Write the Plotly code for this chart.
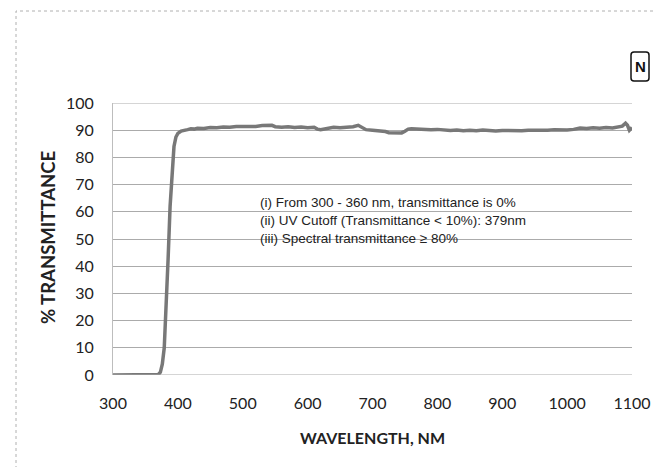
import plotly.graph_objects as go

wavelength = [300, 310, 320, 330, 340, 350, 360, 365, 370, 373, 376, 379, 382, 385, 388, 391, 394, 397,
              400, 405, 410, 415, 420, 425, 430, 440, 450, 460, 470, 480, 490, 500, 510, 520, 530, 540,
              545, 550, 560, 570, 580, 590, 600, 610, 615, 620, 630, 640, 650, 660, 670, 678, 685, 690,
              700, 710, 720, 725, 735, 745, 750, 755, 760, 770, 780, 790, 800, 810, 820, 830, 840, 850,
              860, 870, 880, 890, 900, 910, 920, 930, 940, 950, 960, 970, 980, 990, 1000, 1010, 1020,
              1030, 1040, 1050, 1060, 1070, 1080, 1085, 1090, 1093, 1096, 1100]
transmittance = [0, 0, 0, 0, 0, 0, 0, 0, 0.2, 1, 4, 10, 24, 43, 62, 76, 84, 87.5,
                 88.8, 89.7, 90.1, 90.2, 90.5, 90.4, 90.7, 90.6, 91.0, 90.9, 91.2, 91.1, 91.4, 91.3, 91.5, 91.4, 91.7, 91.9,
                 91.8, 91.3, 91.1, 91.3, 91.0, 91.2, 90.9, 91.1, 90.4, 90.2, 90.8, 91.1, 90.9, 91.0, 91.3, 91.8, 91.0, 90.2,
                 90.0, 89.8, 89.5, 89.1, 88.9, 89.0, 89.6, 90.4, 90.5, 90.3, 90.4, 90.2, 90.3, 90.0, 89.9, 90.1, 89.8, 90.0,
                 89.8, 90.1, 89.9, 89.7, 89.9, 89.8, 90.0, 89.8, 90.0, 89.9, 90.1, 90.0, 90.2, 90.0, 90.1, 90.3, 90.8,
                 90.6, 90.9, 90.7, 91.0, 90.8, 91.2, 91.5, 92.6, 91.8, 90.0, 91.0]

x_ticks = [300, 400, 500, 600, 700, 800, 900, 1000, 1100]
y_ticks = [0, 10, 20, 30, 40, 50, 60, 70, 80, 90, 100]
notes = ["(i) From 300 - 360 nm, transmittance is 0%",
         "(ii) UV Cutoff (Transmittance < 10%): 379nm",
         "(iii) Spectral transmittance \u2265 80%"]

W, H = 662, 467
ML, MR, MT, MB = 105, 38, 95, 100
PW, PH = W - ML - MR, H - MT - MB


def px(xp):
    return (xp - ML) / PW


def py(yp):
    return (H - MB - yp) / PH


fig = go.Figure()
fig.add_trace(go.Scatter(x=wavelength, y=transmittance, mode="lines",
                         line=dict(color="#787878", width=3.5), showlegend=False,
                         hoverinfo="x+y"))

tick_font = dict(family="Lato, 'Open Sans', sans-serif", size=16, color="#222222")

fig.update_layout(
    width=W, height=H,
    margin=dict(l=ML, r=MR, t=MT, b=MB),
    paper_bgcolor="white", plot_bgcolor="white",
    xaxis=dict(range=[300, 1100], tickvals=x_ticks, ticktext=[str(v) for v in x_ticks],
               showgrid=False, zeroline=False, showline=False, ticks="",
               ticklabelstandoff=17, tickfont=tick_font,
               title=dict(text="<b>WAVELENGTH, NM</b>",
                          font=dict(family="Lato, 'Open Sans', sans-serif", size=16, color="#222222"),
                          standoff=21)),
    yaxis=dict(range=[0, 100], tickvals=y_ticks, ticktext=[str(v) for v in y_ticks],
               showgrid=True, gridcolor="#ababab", gridwidth=1, zeroline=False,
               showline=True, linecolor="#bdbdbd", linewidth=1, ticks="",
               ticklabelstandoff=15, tickfont=tick_font),
)

# y-axis title
fig.add_annotation(x=px(40), y=py(230), xref="paper", yref="paper",
                   text="<b>% TRANSMITTANCE</b>", textangle=-90, showarrow=False,
                   xanchor="center", yanchor="middle",
                   font=dict(family="Lato, 'Open Sans', sans-serif", size=18.5, color="#222222"))

# explicit edge gridlines at 0 and 100
for yv in (0, 100):
    fig.add_shape(type="line", xref="paper", yref="y", x0=0, x1=1, y0=yv, y1=yv,
                  line=dict(color="#ababab", width=1))

# outer dotted border
fig.add_shape(type="rect", xref="paper", yref="paper",
              x0=px(8), x1=px(659), y0=py(460), y1=py(3),
              line=dict(color="#b0b0b0", width=1, dash="dot"))

for i, t in enumerate(notes):
    fig.add_annotation(x=px(250), y=py(194 + 18 * i), xref="paper", yref="paper",
                       text=t, showarrow=False, xanchor="left", yanchor="middle",
                       font=dict(family="Liberation Sans, Arial, sans-serif", size=13.5, color="#222222"))

# "N" label in a rounded box
bx0, bx1, by0, by1, r = 623, 641, 44, 73, 3
path = (f"M {px(bx0 + r)} {py(by0)} L {px(bx1 - r)} {py(by0)} "
        f"Q {px(bx1)} {py(by0)} {px(bx1)} {py(by0 + r)} L {px(bx1)} {py(by1 - r)} "
        f"Q {px(bx1)} {py(by1)} {px(bx1 - r)} {py(by1)} L {px(bx0 + r)} {py(by1)} "
        f"Q {px(bx0)} {py(by1)} {px(bx0)} {py(by1 - r)} L {px(bx0)} {py(by0 + r)} "
        f"Q {px(bx0)} {py(by0)} {px(bx0 + r)} {py(by0)} Z")
fig.add_shape(type="path", xref="paper", yref="paper", path=path,
              line=dict(color="#111111", width=1.5))
fig.add_annotation(x=px((bx0 + bx1) / 2), y=py((by0 + by1) / 2), xref="paper", yref="paper",
                   text="<b>N</b>", showarrow=False, xanchor="center", yanchor="middle",
                   font=dict(family="Liberation Sans, Arial, sans-serif", size=15, color="#111111"))

fig.write_html("out.html")
